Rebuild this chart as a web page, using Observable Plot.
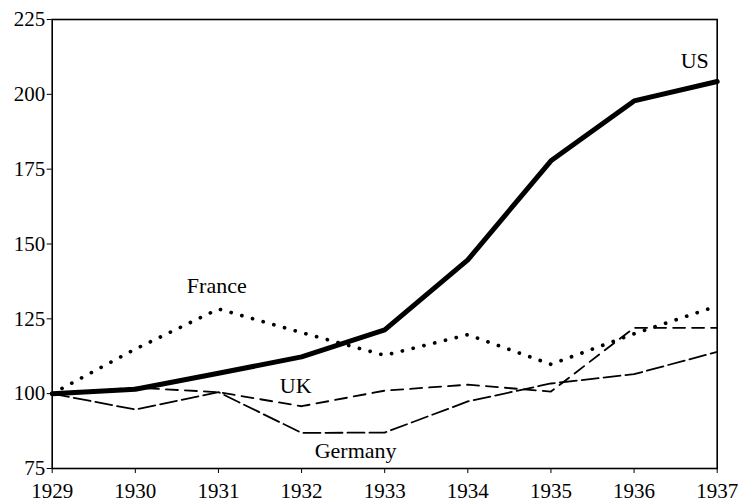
<!DOCTYPE html>
<html>
<head>
<meta charset="utf-8">
<script src="https://cdn.jsdelivr.net/npm/d3@7"></script>
<script src="https://cdn.jsdelivr.net/npm/@observablehq/plot@0.6"></script>
<style>
  html, body { margin: 0; padding: 0; background: #fff; }
  #chart svg { display: block; }
  #chart svg, #chart svg text { font-family: "Liberation Serif", "Times New Roman", serif !important; }
</style>
</head>
<body>
<div id="chart"></div>
<script>
const years   = [1929, 1930, 1931, 1932, 1933, 1934, 1935, 1936, 1937];
const us      = [100, 101.5, 106.8, 112.3, 121.3, 144.7, 177.8, 197.8, 204.3];
const france  = [100, 114.9, 128.3, 120.4, 112.8, 119.7, 109.8, 120.0, 129.3];
const uk      = [100, 102.0, 100.5, 95.8, 101.0, 103.0, 100.7, 122.0, 122.0];
const germany = [100, 94.7, 100.5, 86.9, 87.0, 97.4, 103.4, 106.5, 114.0];
const yTicks  = [75, 100, 125, 150, 175, 200, 225];

// annotation labels (text, year, value)
const labelText  = ["US", "France", "UK", "Germany"];
const labelYear  = [1936.73, 1930.98, 1931.93, 1932.65];
const labelValue = [211, 136.1, 102.7, 81];

const series = [
  {name: "US", values: us},
  {name: "France", values: france},
  {name: "UK", values: uk},
  {name: "Germany", values: germany}
];
const rows = series.flatMap(s => years.map((yr, i) => ({country: s.name, year: yr, value: s.values[i]})));
const byCountry = name => rows.filter(d => d.country === name);
const labels = labelText.map((t, i) => ({text: t, year: labelYear[i], value: labelValue[i]}));

const chart = Plot.plot({
  width: 739,
  height: 503,
  marginLeft: 51.7,
  marginRight: 22.3,
  marginTop: 19,
  marginBottom: 35,
  style: "font-family: 'Liberation Serif', serif; font-size: 21px; color: #000; background: #fff;",
  x: {domain: [1929, 1937], ticks: years, tickFormat: d => String(d), tickSize: 5, tickPadding: 10, label: null},
  y: {domain: [75, 225], ticks: yTicks, tickSize: 5, tickPadding: 2, label: null},
  marks: [
    Plot.frame({stroke: "#000", strokeWidth: 1.6}),
    Plot.line(byCountry("Germany"), {x: "year", y: "value", stroke: "#000", strokeWidth: 1.8, strokeDasharray: "17,5"}),
    Plot.line(byCountry("UK"), {x: "year", y: "value", stroke: "#000", strokeWidth: 1.8, strokeDasharray: "12,7"}),
    Plot.line(byCountry("France"), {x: "year", y: "value", stroke: "#000", strokeWidth: 3.7, strokeDasharray: "0.1,11", strokeLinecap: "round"}),
    Plot.line(byCountry("US"), {x: "year", y: "value", stroke: "#000", strokeWidth: 5}),
    Plot.text(labels, {x: "year", y: "value", text: "text", fill: "#000", fontSize: 22, textAnchor: "middle"})
  ]
});
document.getElementById("chart").appendChild(chart);
</script>
</body>
</html>
